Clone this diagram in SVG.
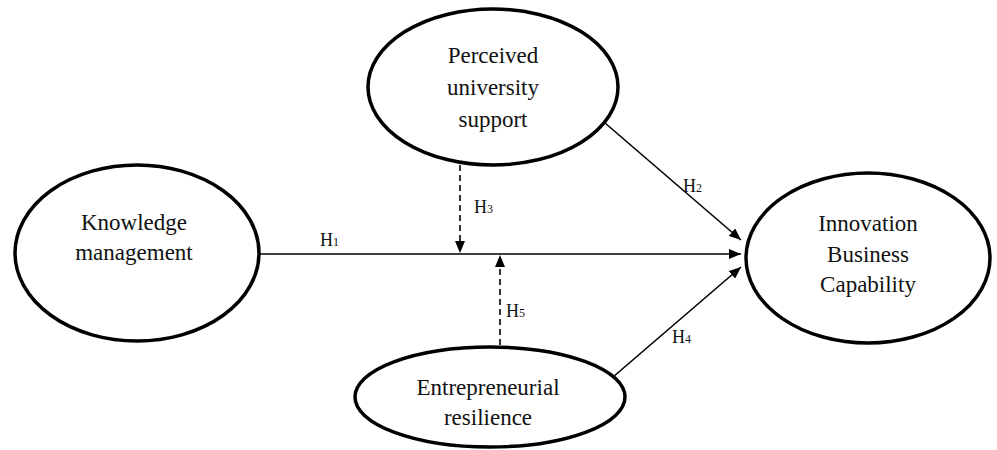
<svg xmlns="http://www.w3.org/2000/svg" width="997" height="450" viewBox="0 0 997 450">
<style>
.node ellipse{fill:#fff;stroke:#000;stroke-width:3.5}
.node text{font-family:"Liberation Serif","Times New Roman",serif;font-size:23px;fill:#111;text-anchor:middle}
.conn line{stroke:#000;stroke-width:1.6;fill:none}
.conn .dash{stroke-dasharray:6 4}
.lbl{font-family:"Liberation Serif","Times New Roman",serif;font-size:18px;fill:#111}
.sub{font-size:12px}
</style>
<defs>
<marker id="arr" viewBox="0 0 12 10" refX="12" refY="5" markerWidth="12" markerHeight="10" markerUnits="userSpaceOnUse" orient="auto">
<path d="M0,0 L12,5 L0,10 Z" fill="#000"/>
</marker>
</defs>
<rect width="997" height="450" fill="#fff"/>
<g class="conn">
<line x1="258" y1="254" x2="741" y2="254" marker-end="url(#arr)"/>
<line x1="605" y1="123" x2="741" y2="240" marker-end="url(#arr)"/>
<line x1="613" y1="377" x2="741" y2="267" marker-end="url(#arr)"/>
<line class="dash" x1="460" y1="165" x2="460" y2="253" marker-end="url(#arr)"/>
<line class="dash" x1="500" y1="345" x2="500" y2="255" marker-end="url(#arr)"/>
<text class="lbl" x="320" y="246">H<tspan class="sub">1</tspan></text>
<text class="lbl" x="683" y="192">H<tspan class="sub">2</tspan></text>
<text class="lbl" x="474" y="213">H<tspan class="sub">3</tspan></text>
<text class="lbl" x="672" y="343">H<tspan class="sub">4</tspan></text>
<text class="lbl" x="506" y="317">H<tspan class="sub">5</tspan></text>
</g>
<g id="km" class="node">
<ellipse cx="137" cy="253" rx="122" ry="88"/>
<text x="134" y="230">Knowledge</text>
<text x="134" y="260">management</text>
</g>
<g id="pus" class="node">
<ellipse cx="493" cy="87" rx="125" ry="78"/>
<text x="493" y="63">Perceived</text>
<text x="493" y="95">university</text>
<text x="493" y="127">support</text>
</g>
<g id="ibc" class="node">
<ellipse cx="868" cy="258" rx="122" ry="85"/>
<text x="868" y="231">Innovation</text>
<text x="868" y="262">Business</text>
<text x="868" y="292">Capability</text>
</g>
<g id="er" class="node">
<ellipse cx="490" cy="397" rx="135" ry="50"/>
<text x="488" y="395">Entrepreneurial</text>
<text x="488" y="425">resilience</text>
</g>
</svg>
